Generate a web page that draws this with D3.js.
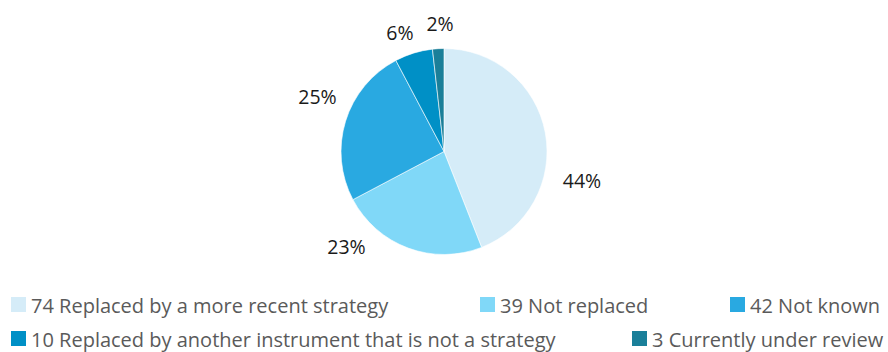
<!DOCTYPE html>
<html>
<head>
<meta charset="utf-8">
<script src="https://cdn.jsdelivr.net/npm/d3@7"></script>
<style>
  html, body { margin: 0; padding: 0; background: #ffffff; }
  svg { display: block; }
</style>
</head>
<body>
<svg id="chart" width="888" height="352"></svg>
<script>
// Outcome of strategies once they expired
const categories = [
  "Replaced by a more recent strategy",
  "Not replaced",
  "Not known",
  "Replaced by another instrument that is not a strategy",
  "Currently under review"
];
const counts = [74, 39, 42, 10, 3];
const percentLabels = ["44%", "23%", "25%", "6%", "2%"];
const colors = ["#d5ecf8", "#80d8f8", "#29a9e1", "#0090c6", "#1a7f99"];

// layout
const cx = 444, cy = 151.5, radius = 103;
// label placement: angular shift from slice middle (radians) and distance from centre
const labelShift = [0.394, 0.444, 0.111, -0.055, 0.025];
const labelDist = [141, 136, 138, 127, 128];
// legend slots (square left edge, row index)
const legendSlots = [
  { x: 11, row: 0 }, { x: 480, row: 0 }, { x: 730, row: 0 },
  { x: 11, row: 1 }, { x: 632, row: 1 }
];
const legendTop = 297, legendRowGap = 34, legendBox = 15;

const svg = d3.select("#chart");

const pie = d3.pie().sort(null).value(d => d)(counts);
const arc = d3.arc().innerRadius(0).outerRadius(radius);

const g = svg.append("g").attr("transform", `translate(${cx},${cy})`);

g.selectAll("path.slice")
  .data(pie)
  .join("path")
  .attr("class", "slice")
  .attr("d", arc)
  .attr("fill", (d, i) => colors[i])
  .attr("stroke", "#ffffff")
  .attr("stroke-width", 0.6);

g.selectAll("text.pct")
  .data(pie)
  .join("text")
  .attr("class", "pct")
  .each(function (d, i) {
    const a = (d.startAngle + d.endAngle) / 2 + labelShift[i];
    const r = labelDist[i];
    d3.select(this)
      .attr("x", r * Math.sin(a))
      .attr("y", -r * Math.cos(a));
  })
  .attr("text-anchor", "middle")
  .attr("dominant-baseline", "central")
  .attr("font-family", "'Open Sans', sans-serif")
  .attr("font-size", 19.5)
  .attr("fill", "#1a1a1a")
  .text((d, i) => percentLabels[i]);

// legend
const legend = svg.append("g");
const items = legend.selectAll("g.item")
  .data(categories)
  .join("g")
  .attr("class", "item")
  .attr("transform", (d, i) => {
    const s = legendSlots[i];
    return `translate(${s.x},${legendTop + s.row * legendRowGap})`;
  });

items.append("rect")
  .attr("width", legendBox)
  .attr("height", legendBox)
  .attr("fill", (d, i) => colors[i]);

items.append("text")
  .attr("x", legendBox + 5)
  .attr("y", 16)
  .attr("font-family", "'Open Sans', sans-serif")
  .attr("font-size", 20)
  .attr("fill", "#5a5a5a")
  .text((d, i) => `${counts[i]} ${d}`);
</script>
</body>
</html>
